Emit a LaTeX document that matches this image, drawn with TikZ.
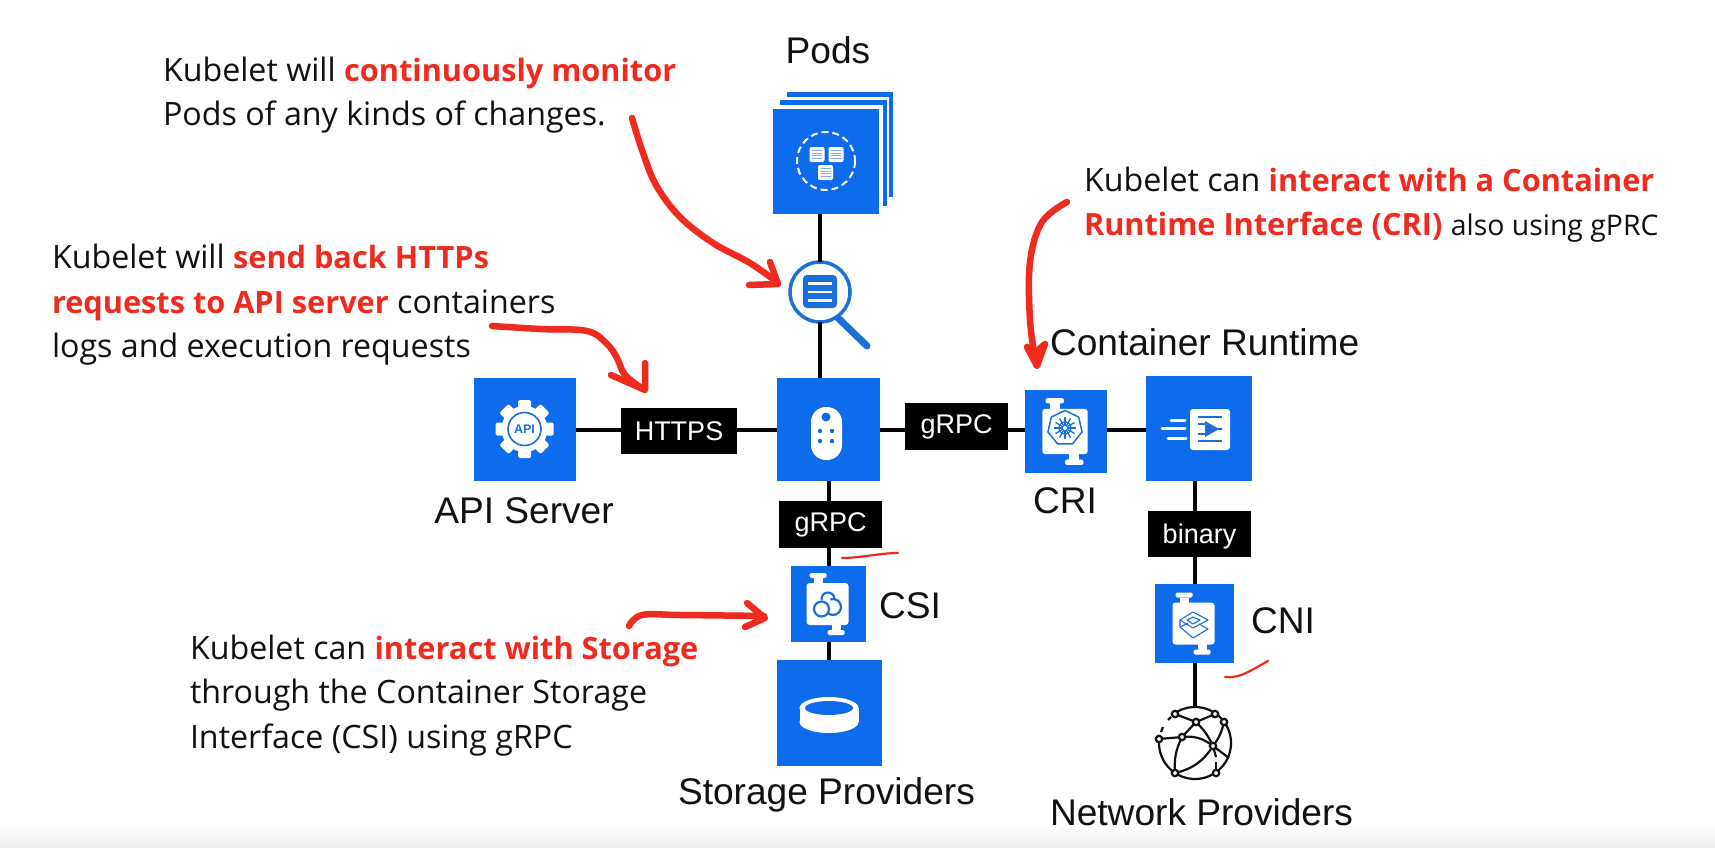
\documentclass[tikz,border=0pt]{standalone}
\usepackage{fontspec}
\usetikzlibrary{shapes.geometric,calc}
\newfontfamily\labelf{Liberation Sans}
\newfontfamily\notef{Open Sans}
\definecolor{kblue}{HTML}{0D6CEC}
\definecolor{kicon}{HTML}{1A6FD8}
\definecolor{kred}{HTML}{EF2A1E}
\definecolor{kink}{HTML}{111111}
\newcommand{\hot}[1]{{\fontsize{30.7}{44}\selectfont\bfseries\color{kred}#1}}
\tikzset{
  x=1pt,y=-1pt,
  bluebox/.style={fill=kblue,draw=none,inner sep=0,outer sep=0},
  tagbox/.style={fill=black,draw=none,inner sep=0,outer sep=0,text=white,font=\labelf\fontsize{27}{30}\selectfont},
  conn/.style={line width=4pt,black},
  biglabel/.style={inner sep=0,outer sep=0,text=kink,font=\labelf\fontsize{37.1}{40}\selectfont},
  note/.style={inner sep=0,outer sep=0,anchor=north west,align=left,text=kink,font=\notef\fontsize{32.2}{44.5}\selectfont},
  redstroke/.style={draw=kred,line width=6.5pt,line cap=round,line join=round},
  thinred/.style={draw=kred,line width=2.2pt,line cap=round},
  canister/.pic={
    \fill[white,rounded corners=3pt] (-21,-21) rectangle (21,21);
    \fill[white] (-14,-26) rectangle (-5,-20);
    \fill[white,rounded corners=1.5pt] (-18,-31) rectangle (-1,-26);
    \fill[white] (4,20) rectangle (13,27);
    \fill[white,rounded corners=1.5pt] (0,26) rectangle (17,31);
  },
  podfile/.pic={
    \fill[white,rounded corners=2pt] (-7.5,-7.5) rectangle (7.5,7.5);
    \foreach \yy in {-4,-1.5,1,3.5} \draw[kblue!55,line width=1pt] (-5,\yy) -- (5,\yy);
  },
  gearTooth/.style={fill=white,rounded corners=1.5pt}
}
\begin{document}
\begin{tikzpicture}
\useasboundingbox (0,0) rectangle (1715,848);
\fill[white] (0,0) rectangle (1715,848);
\shade[top color=white,bottom color=black!7] (0,825) rectangle (1715,848);

% Pods stack
\fill[kblue] (787,92) rectangle (893,197);
\fill[white] (780,97) rectangle (889,202);
\fill[kblue] (780,100) rectangle (887,206);
\fill[white] (773,105) rectangle (883,210);
\node[bluebox,minimum width=106pt,minimum height=105pt] (pods) at (826,161.5) {};
\node[biglabel] (podslabel) at (828,50) {Pods};
\draw[white,line width=2pt,dash pattern=on 7pt off 4pt] (826,161) circle[radius=29];
\pic at (817,154.5) {podfile};
\pic at (836,154.5) {podfile};
\pic at (825.5,172.5) {podfile};

% Monitor
\node[circle,draw=kicon,line width=3.5pt,fill=white,minimum size=60pt,inner sep=0,outer sep=0] (mag) at (820,292) {};
\fill[kicon,rounded corners=4pt] (803,275) rectangle (837,308);
\foreach \yy in {283.5,292,300.5}\draw[white,line width=2.4pt] (808,\yy) -- (832,\yy);
\draw[kicon,line width=7pt,line cap=round] (838,318) -- (867,346);

% Kubelet
\node[bluebox,minimum width=103pt,minimum height=103pt] (kubelet) at (828.5,429.5) {};
\fill[white,rounded corners=15pt] (811,407) rectangle (842,460);
\fill[kblue] (826,417) circle[radius=4.5];
\foreach \xx in {820,832}\foreach \yy in {431,441}\fill[kblue] (\xx,\yy) circle[radius=2.2];

% API server
\node[bluebox,minimum width=102pt,minimum height=103pt] (api) at (525,429.5) {};
\begin{scope}[shift={(524.5,429)}]
  \foreach \a in {0,45,...,315}
    \fill[gearTooth,rotate=\a] (-6.5,-29) rectangle (6.5,-15);
  \fill[white] (0,0) circle[radius=23];
  \draw[kicon,line width=1.6pt] (0,0) circle[radius=16.5];
\end{scope}
\node[inner sep=0,text=kicon,font=\labelf\bfseries\fontsize{12.5}{12.5}\selectfont] (apitext) at (524.5,429.5) {API};
\node[biglabel] (apilabel) at (524,511) {API Server};

% Tags
\node[tagbox,minimum width=116pt,minimum height=46pt] (https) at (679,431) {HTTPS};
\node[tagbox,minimum width=103pt,minimum height=47pt] (grpch) at (956.5,426.5) {gRPC};
\node[tagbox,minimum width=103pt,minimum height=47pt] (grpcv) at (830.5,524.5) {gRPC};
\node[tagbox,minimum width=103pt,minimum height=46pt] (binary) at (1199.5,534) {\raisebox{-9pt}[0pt][0pt]{binary}};

% CRI
\node[bluebox,minimum width=82pt,minimum height=83pt] (cri) at (1066,431.5) {};
\pic[scale=1.08] at (1065,431.5) {canister};
\node[regular polygon,regular polygon sides=7,draw=kicon,line width=1.5pt,fill=white,minimum size=35pt,inner sep=0] (wheel) at (1065,428) {};
\foreach \a in {0,30,...,150}\draw[kicon,line width=1.3pt,rotate around={\a:(1065,428)}] (1054,428) -- (1076,428);
\fill[white] (1065,428) circle[radius=2];
\draw[kicon,line width=1.2pt] (1065,428) circle[radius=6];
\node[biglabel] (crilabel) at (1065,501) {CRI};

% Container runtime
\node[bluebox,minimum width=106pt,minimum height=105pt] (runtime) at (1199,428.5) {};
\fill[white,rounded corners=3pt] (1190,409) rectangle (1230,450);
\draw[kicon,line width=1.8pt] (1198,417) -- (1222,417) (1198,441) -- (1222,441);
\draw[kicon,line width=1.8pt] (1198,424) -- (1205,424) (1198,434) -- (1205,434) (1216,429) -- (1222,429);
\fill[kicon] (1205,421) -- (1219,429) -- (1205,437) -- cycle;
\draw[white,line width=3pt,line cap=round] (1171,420) -- (1185,420) (1162,428) -- (1185,428) (1168,438) -- (1186,438);
\node[biglabel,anchor=west] (runtimelabel) at (1050,342) {Container Runtime};

% CNI
\node[bluebox,minimum width=79pt,minimum height=79pt] (cni) at (1194.5,623.5) {};
\pic at (1193.5,623.5) {canister};
\begin{scope}[kicon,line width=1.1pt,line join=round]
  \draw (1193,612) -- (1208,620) -- (1193,628) -- (1180,620) -- cycle;
  \draw (1193,617) -- (1200,620) -- (1193,624) -- (1187,620) -- cycle;
  \draw (1180,620) -- (1180,627) -- (1193,638) -- (1208,629) -- (1199,624);
  \draw (1180,627) -- (1188,623);
\end{scope}
\node[biglabel] (cnilabel) at (1283,621) {CNI};

% Globe
\node[circle,minimum size=74pt,inner sep=0,outer sep=0] (globe) at (1195,743) {};
\begin{scope}[line width=2.2pt,kink]
  \draw ([shift={(-125:36)}]1195,743) arc[start angle=-125,end angle=186,radius=36];
  \draw (1161,732) -- (1163,727);
  \draw (1168,720) -- (1171,717);
  \draw (1175,714) -- (1196,722) -- (1215,714);
  \draw (1196,722) -- (1182,737);
  \draw (1196,722) to[bend left=10] (1213,746);
  \draw (1224,722) to[bend left=12] (1213,746);
  \draw (1159,739) -- (1182,737);
  \draw (1182,737) to[bend left=22] (1213,746);
  \draw (1182,737) to[bend right=15] (1175,773);
  \draw (1175,773) to[bend right=22] (1213,746);
  \draw (1213,746) -- (1229,758);
  \draw (1213,746) -- (1216,757);
  \draw (1216,762) -- (1216,773);
  \foreach \p in {(1175,714),(1215,714),(1196,722),(1224,722),(1159,739),(1182,737),(1213,746),(1175,773),(1216,773)}
    \filldraw[fill=white] \p circle[radius=3.2];
\end{scope}
\node[biglabel,anchor=west] (netlabel) at (1050,812) {Network Providers};

% CSI
\node[bluebox,minimum width=75pt,minimum height=76pt] (csi) at (828.5,604) {};
\pic at (827.5,604) {canister};
\begin{scope}[kicon,line width=2.2pt]
  \draw (821.5,609) circle[radius=7.5];
  \draw ([shift={(-190:6.5)}]828,599) arc[start angle=-190,end angle=-10,radius=6.5] -- ++(0,0);
  \draw ([shift={(-110:8)}]833,607) arc[start angle=-110,end angle=130,radius=8];
\end{scope}
\node[biglabel] (csilabel) at (910,606) {CSI};

% Storage
\node[bluebox,minimum width=105pt,minimum height=106pt] (storage) at (829.5,713) {};
\fill[white] (829,722) ellipse[x radius=29.5,y radius=11];
\fill[white] (799.5,708) rectangle (858.5,722);
\fill[white] (829,708) ellipse[x radius=29.5,y radius=11];
\fill[kblue] (829,708) ellipse[x radius=24,y radius=7];
\node[biglabel,anchor=west] (storagelabel) at (678,795) {Storage Providers};

% Connectors
\draw[conn] (mag.north |- pods.south) -- (mag.north);
\draw[conn] (mag.south) -- (mag.south |- kubelet.north);
\draw[conn] (api.east) -- (https.west |- api.east);
\draw[conn] (https.east |- kubelet.west) -- (kubelet.west);
\draw[conn] (kubelet.east) -- (grpch.west |- kubelet.east);
\draw[conn] (grpch.east |- kubelet.east) -- (cri.west |- kubelet.east);
\draw[conn] (cri.east |- kubelet.east) -- (runtime.west |- kubelet.east);
\draw[conn] (kubelet.south) -- (kubelet.south |- grpcv.north);
\draw[conn] (csi.north |- grpcv.south) -- (csi.north);
\draw[conn] (csi.south) -- (csi.south |- storage.north);
\draw[conn] (cni.north |- runtime.south) -- (cni.north |- binary.north);
\draw[conn] (cni.north |- binary.south) -- (cni.north);
\draw[conn] (cni.south) -- (cni.south |- globe.north);

% Notes
\node[note] (noteA) at (163,57) {Kubelet will \hot{continuously monitor}\\Pods of any kinds of changes.};
\node[note] (noteB) at (52,244.5) {Kubelet will \hot{send back HTTPs}\\\hot{requests to API server} containers\\logs and execution requests};
\node[note] (noteC) at (1084,167) {Kubelet can \hot{interact with a Container}\\\hot{Runtime Interface (CRI)} {\fontsize{28.4}{44}\selectfont also using gPRC}};
\node[note] (noteD) at (190,635) {Kubelet can \hot{interact with Storage}\\through the Container Storage\\Interface (CSI) using gRPC};

% Red hand-drawn arrows
\draw[redstroke] plot[smooth,tension=.6] coordinates {(632,118) (642,150) (656,185) (680,217) (713,243) (750,263) (777,282)};
\draw[redstroke] (749,285) -- (778,284) -- (770,262);
\draw[redstroke] plot[smooth,tension=.6] coordinates {(492,326) (540,329) (587,331) (607,344) (617,358) (625,375) (643,389)};
\draw[redstroke] (611,375) -- (645,390) -- (645,363);
\draw[redstroke] plot[smooth,tension=.6] coordinates {(1067,202) (1042,222) (1030,262) (1030,320) (1036,364)};
\filldraw[redstroke,fill=kred] (1027,347) -- (1037,366) -- (1045,344) -- (1036,352) -- cycle;
\draw[redstroke] plot[smooth,tension=.6] coordinates {(629,626) (642,615) (680,615) (764,616)};
\draw[redstroke] (747,603) -- (765,618) -- (745,627);
\draw[thinred] (842,558) .. controls (860,558) and (880,553) .. (898,553);
\draw[thinred] (1225,677) .. controls (1240,679) and (1255,668) .. (1268,661);
\end{tikzpicture}
\end{document}
